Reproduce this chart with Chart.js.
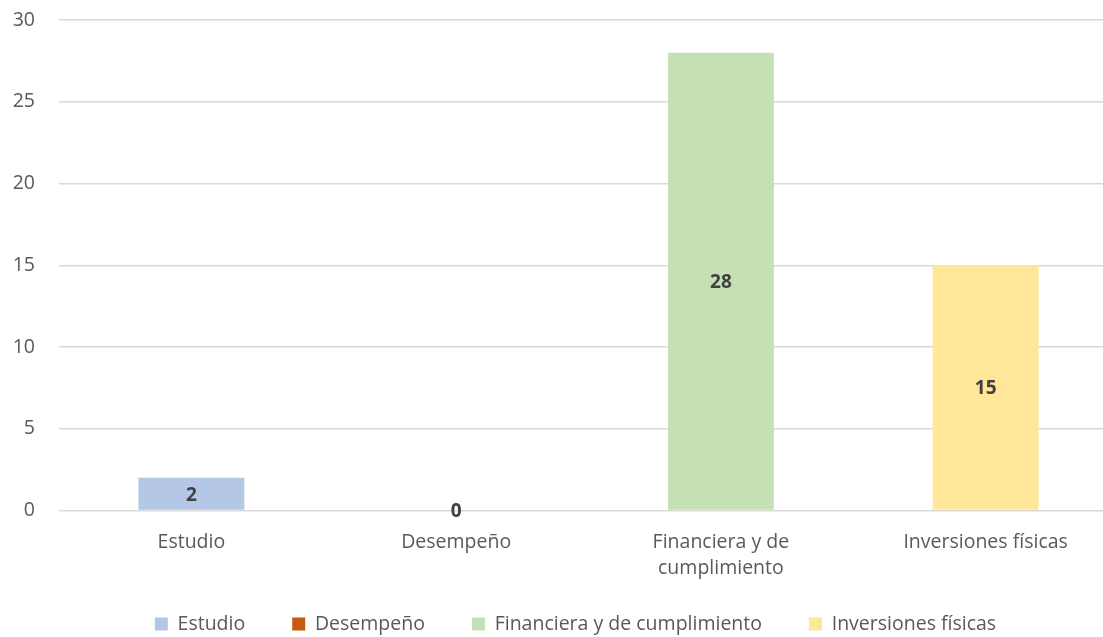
<!DOCTYPE html>
<html>
<head>
<meta charset="utf-8">
<script src="https://cdn.jsdelivr.net/npm/chart.js@4/dist/chart.umd.min.js"></script>
<style>
  html, body { margin: 0; padding: 0; background: #ffffff; overflow: hidden; }
  #wrap { position: absolute; left: 0; top: 0; width: 1118px; height: 667px; }
</style>
</head>
<body>
<div id="wrap"><canvas id="c"></canvas></div>
<script>
const categories = ['Estudio', 'Desempeño', 'Financiera y de cumplimiento', 'Inversiones físicas'];
const tickLabels = ['Estudio', 'Desempeño', ['Financiera y de', 'cumplimiento'], 'Inversiones físicas'];
const values = [2, 0, 28, 15];
const colors = ['#b4c7e7', '#c55a11', '#c5e0b4', '#ffe699'];
const yMin = 0, yMax = 30, yStep = 5;

const FONT = '"Open Sans", "DejaVu Sans", sans-serif';
const TEXT = '#595959';
const FS = 19.5;

const datasets = categories.map((name, i) => ({
  label: name,
  data: categories.map((_, j) => (j === i ? values[i] : null)),
  backgroundColor: colors[i],
  borderWidth: 0,
  grouped: false,
  categoryPercentage: 1.0,
  barPercentage: 0.4
}));

const centerLabels = {
  id: 'centerLabels',
  afterDatasetsDraw(chart) {
    const ctx = chart.ctx;
    ctx.save();
    ctx.font = 'bold 19px ' + FONT;
    ctx.fillStyle = '#404040';
    ctx.textAlign = 'center';
    ctx.textBaseline = 'middle';
    chart.data.datasets.forEach((ds, di) => {
      const meta = chart.getDatasetMeta(di);
      meta.data.forEach((el, idx) => {
        const v = ds.data[idx];
        if (v === null || v === undefined) return;
        const p = el.getProps(['x', 'y', 'base'], true);
        ctx.fillText(String(v), p.x, (p.y + p.base) / 2 + 1.5);
      });
    });
    ctx.restore();
  }
};

const legendPlace = {
  id: 'legendPlace',
  afterLayout(chart) {
    const lg = chart.legend;
    if (!lg) return;
    const w = lg.right - lg.left;
    const h = lg.bottom - lg.top;
    const P = lg.options.labels.padding;
    const top = 624 - FS / 2 - P;
    const cx = 575.5;
    lg.left = cx - w / 2;
    lg.right = cx + w / 2;
    lg.top = top;
    lg.bottom = top + h;
  }
};

new Chart(document.getElementById('c'), {
  type: 'bar',
  data: { labels: tickLabels, datasets },
  options: {
    responsive: true,
    maintainAspectRatio: false,
    animation: false,
    events: [],
    layout: { padding: { left: 0, right: 0, top: 20, bottom: 0 } },
    scales: {
      x: {
        grid: { display: false, drawTicks: false },
        border: { display: false },
        ticks: {
          color: TEXT,
          font: { family: FONT, size: FS, lineHeight: 1.38 },
          padding: 18,
          maxRotation: 0,
          autoSkip: false
        },
        afterFit(s) { s.height = 80; }
      },
      y: {
        min: yMin,
        max: yMax,
        grid: { color: '#d9d9d9', lineWidth: 1.5, drawTicks: false },
        border: { display: false },
        ticks: {
          stepSize: yStep,
          color: TEXT,
          font: { family: FONT, size: FS },
          padding: 24
        },
        afterFit(s) { s.width = 59; s.paddingTop = 0; s.paddingBottom = 0; }
      }
    },
    plugins: {
      legend: {
        position: 'bottom',
        labels: {
          boxWidth: 13,
          boxHeight: 13,
          padding: 47,
          color: TEXT,
          font: { family: FONT, size: FS }
        }
      },
      tooltip: { enabled: false }
    }
  },
  plugins: [centerLabels, legendPlace]
});
</script>
</body>
</html>
